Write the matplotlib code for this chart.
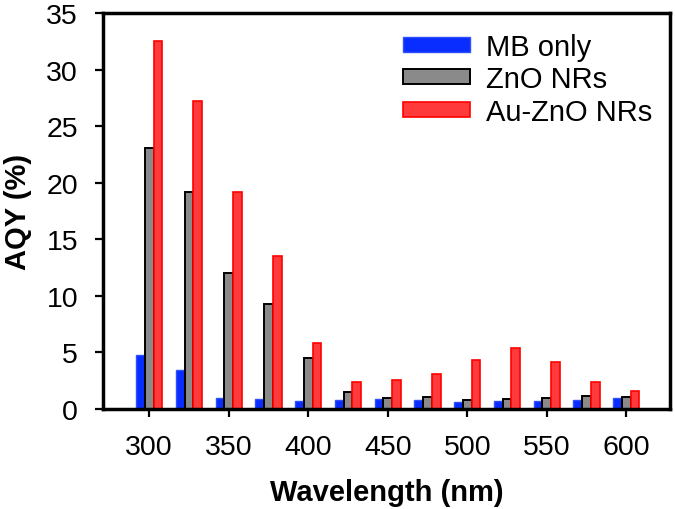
import numpy as np
import matplotlib
matplotlib.use("Agg")
import matplotlib.pyplot as plt

plt.rcParams["font.family"] = ["Liberation Sans", "DejaVu Sans"]

# wavelengths (nm), one group of bars each
wavelengths = [300, 325, 350, 375, 400, 425, 450, 475, 500, 525, 550, 575, 600]
tick_labels = ["300", "350", "400", "450", "500", "550", "600"]

# AQY (%)
mb_only = [4.8, 3.45, 1.0, 0.86, 0.71, 0.8, 0.86, 0.8, 0.65, 0.74, 0.71, 0.8, 0.94]
zno_nrs = [23.1, 19.2, 12.0, 9.25, 4.5, 1.47, 0.94, 1.03, 0.77, 0.92, 0.94, 1.12, 1.09]
au_zno_nrs = [32.5, 27.2, 19.2, 13.5, 5.85, 2.36, 2.54, 3.07, 4.37, 5.43, 4.19, 2.36, 1.62]

x = np.arange(len(wavelengths))
width = 0.22

fig = plt.figure(figsize=(6.75, 5.1), dpi=100)
ax = fig.add_axes([0.1526, 0.196, 0.84, 0.7765])

ax.bar(x - width, mb_only, width, color="#0a2dff", edgecolor="#3050ff",
       linewidth=1.0, label="MB only")
ax.bar(x, zno_nrs, width, color="#8a8a8a", edgecolor="black",
       linewidth=1.4, label="ZnO NRs")
ax.bar(x + width, au_zno_nrs, width, color="#ff3a3a", edgecolor="#ff0000",
       linewidth=1.2, label="Au-ZnO NRs")

ax.set_xlim(-1.16, 13.1)
ax.set_ylim(0, 35)
ax.set_yticks(np.arange(0, 36, 5))
ax.set_xticks(x[::2])
ax.set_xticklabels(tick_labels)

for s in ax.spines.values():
    s.set_linewidth(2.5)
ax.tick_params(direction="out", length=6, width=1.6, labelsize=20.5, pad=12)

ax.set_xlabel("Wavelength (nm)", fontsize=21, fontweight="bold", labelpad=13)
ax.set_ylabel("AQY (%)", fontsize=21, fontweight="bold", labelpad=10)

ax.legend(loc="upper left", bbox_to_anchor=(0.529, 0.95), frameon=False,
          fontsize=21, borderpad=0, borderaxespad=0, handlelength=2.3,
          handleheight=0.4, handletextpad=0.55, labelspacing=0.15)

fig.savefig("out.png", dpi=100)
